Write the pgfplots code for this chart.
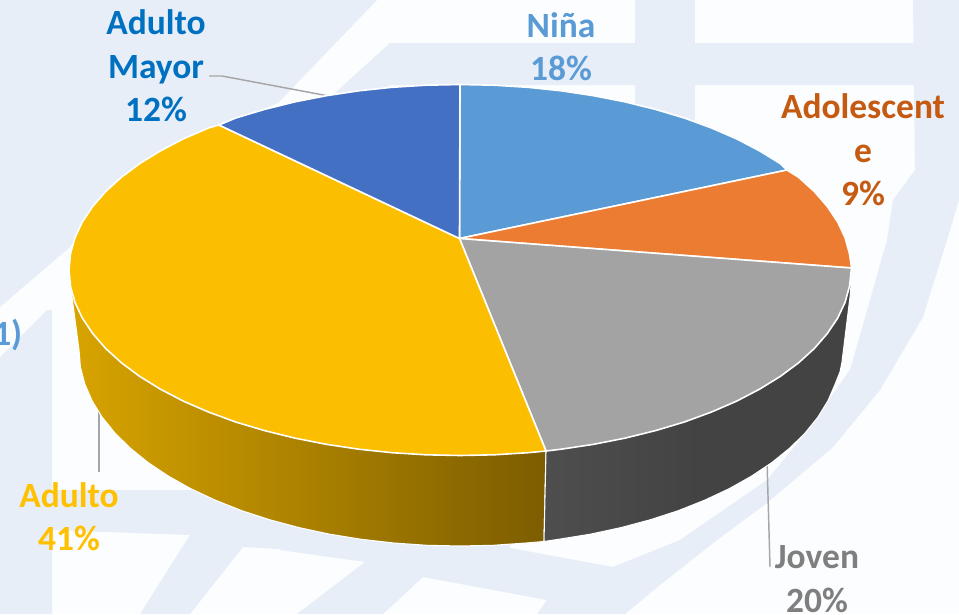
\documentclass[border=0pt]{standalone}
\usepackage{pgfplots}
\pgfplotsset{compat=1.18}
\usepackage{fontspec}
\setmainfont{Carlito}
\definecolor{bgw}{HTML}{FBFDFF}
\definecolor{bgb}{HTML}{E7EEF8}
\definecolor{cnina}{HTML}{5B9BD5}
\definecolor{cadol}{HTML}{EC7C31}
\definecolor{cjoven}{HTML}{A3A3A3}
\definecolor{cadul}{HTML}{FBBE00}
\definecolor{cmay}{HTML}{4370C2}
\definecolor{tmay}{HTML}{0070C0}
\definecolor{tadol}{HTML}{C55A11}
\definecolor{tadul}{HTML}{FFC000}
\definecolor{tjov}{HTML}{7F7F7F}
\definecolor{lead}{HTML}{A6A6A6}
\definecolor{sy1}{HTML}{D8A400}
\definecolor{sy2}{HTML}{7C5D00}
\definecolor{sg1}{HTML}{4E4E4E}
\definecolor{sg2}{HTML}{434343}
\tikzset{lbl/.style={font=\fontsize{26.6}{32.5}\selectfont\bfseries, align=center}}
\begin{document}
\begin{tikzpicture}
\begin{axis}[
  scale only axis, width=719.25pt, height=460.5pt,
  xmin=0, xmax=959, ymin=0, ymax=614, y dir=reverse,
  hide axis, no markers, clip=true,
  slice/.style={draw=white, line width=1.2pt, line join=round},
  bgp/.style={draw=none, fill=bgb},
]
% background
\addplot[draw=none, fill=bgw] coordinates {(0,0) (959,0) (959,614) (0,614)} -- cycle;
\addplot[bgp] coordinates {(0,0) (377,0) (278,103) (200,135) (100,200) (70,247) (0,307)} -- cycle;
\addplot[bgp] coordinates {(0,357) (47,310) (52,310) (52,614) (0,614)} -- cycle;
\addplot[bgp] coordinates {(52,490) (300,490) (300,550) (243,547) (190,614) (140,614) (190,535) (52,530)} -- cycle;
\addplot[bgp] coordinates {(390,43) (959,43) (959,85) (390,85) (335,130) (335,93)} -- cycle;
\addplot[bgp] coordinates {(635,0) (695,0) (695,130) (635,130)} -- cycle;
\addplot[bgp] coordinates {(913,0) (959,0) (959,200) (947,240) (923,317) (880,390) (833,447) (767,503) (717,540) (660,585) (625,614) (537,614) (547,600) (423,577) (383,614) (297,614) (365,562) (280,550) (280,525) (510,525) (510,548) (613,567) (680,540) (767,480) (800,440) (850,370) (870,300) (887,240) (893,200) (915,170)} -- cycle;
% leader lines
\addplot[lead, line width=1.1pt] coordinates {(209,76) (222,76) (334,97)};
\addplot[lead, line width=1.1pt] coordinates {(99,410) (99,472)};
\addplot[lead, line width=1.1pt] coordinates {(767,460) (770,567)};
% side walls
\addplot[draw=white, line width=0.8pt, left color=sy1, right color=sy2] coordinates {
 (546,451) (70,285) (72,297) (79,350) (80.4,367.1) (84.8,384) (92,400.7) (102,417) (114.7,432.8) (130.1,448) (147.9,462.4) (168.2,476) (190.6,488.6) (215.1,500.1) (241.5,510.6) (269.5,519.7) (299,527.6) (329.7,534.2) (361.4,539.3) (393.9,543) (426.8,545.3) (460,546) (493.2,545.3) (526.1,543) (544,541.5)} -- cycle;
\addplot[draw=white, line width=0.8pt, left color=sg1, right color=sg2, middle color=sg2] coordinates {
 (546,451) (851,285) (850,297) (842,362) (840,372) (835.2,384) (828,400.7) (818,417) (805.3,432.8) (789.9,448) (772.1,462.4) (751.8,476) (729.4,488.6) (704.9,500.1) (678.5,510.6) (650.5,519.7) (621,527.6) (590.3,534.2) (558.6,539.3) (544,541.5)} -- cycle;
% top slices: Nina 18, Adolescente 9, Joven 20, Adulto 41, Adulto Mayor 12
\addplot[slice, fill=cnina] coordinates {
 (459.5,238.5) (460,84.5) (494.1,85.2) (527.9,87.3) (561.2,90.8) (593.7,95.7) (625.2,101.9) (655.5,109.4) (684.3,118) (711.3,127.9) (736.5,138.8) (759.5,150.8) (780.3,163.6) (787,170)} -- cycle;
\addplot[slice, fill=cadol] coordinates {
 (459.5,238.5) (787,170) (798.6,177.25) (814.4,191.6) (827.4,206.6) (837.7,222) (845.1,237.8) (849.5,253.8) (851.5,268)} -- cycle;
\addplot[slice, fill=cjoven] coordinates {
 (459.5,238.5) (851.5,268) (849.5,286.2) (845.1,302.2) (837.7,318) (827.4,333.4) (814.4,348.4) (798.6,362.75) (780.3,376.4) (759.5,389.2) (736.5,401.2) (711.3,412.1) (684.3,422) (655.5,430.6) (625.2,438.1) (593.7,444.3) (561.2,449.2) (546,451)} -- cycle;
\addplot[slice, fill=cadul] coordinates {
 (459.5,238.5) (546,451) (527.9,452.7) (494.1,454.8) (460,455.5) (425.9,454.8) (392.1,452.7) (358.8,449.2) (326.3,444.3) (294.8,438.1) (264.5,430.6) (235.7,422) (208.7,412.1) (183.5,401.2) (160.5,389.2) (139.7,376.4) (121.4,362.75) (105.6,348.4) (92.6,333.4) (82.3,318) (74.9,302.2) (70.5,286.2) (69,270) (70.5,253.8) (74.9,237.8) (82.3,222) (92.6,206.6) (105.6,191.6) (121.4,177.25) (139.7,163.6) (160.5,150.8) (183.5,138.8) (208.7,127.9) (219,125)} -- cycle;
\addplot[slice, fill=cmay] coordinates {
 (459.5,238.5) (219,125) (235.7,118) (264.5,109.4) (294.8,101.9) (326.3,95.7) (358.8,90.8) (392.1,87.3) (425.9,85.2) (460,84.5)} -- cycle;
% labels
\node[lbl, text=tmay] at (axis cs:156,66) {Adulto\\Mayor\\12\%};
\node[lbl, text=cnina] at (axis cs:561,47) {Niña\\18\%};
\node[lbl, text=tadol] at (axis cs:863,150) {Adolescent\\e\\9\%};
\node[lbl, text=tadul] at (axis cs:69,517) {Adulto\\41\%};
\node[lbl, text=tjov] at (axis cs:817,579) {Joven\\20\%};
\node[lbl, text=cnina, anchor=east, overlay] at (axis cs:27,335) {1)};
\end{axis}
\end{tikzpicture}
\end{document}
